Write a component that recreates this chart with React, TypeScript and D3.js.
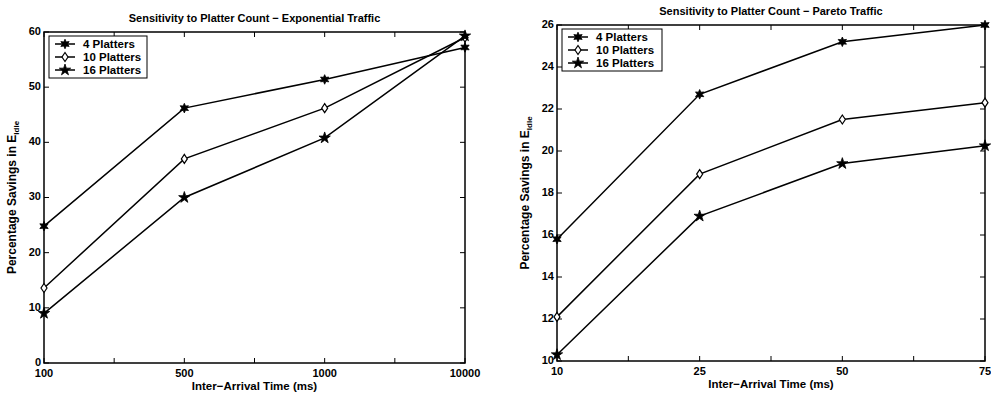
import React from 'react';
import * as d3 from 'd3';

// tick labels along x (minor ticks between categories have no label)
const expCategories = ['100', '500', '1000', '10000'];
const paretoCategories = ['10', '25', '50', '75'];
const seriesNames = ['4 Platters', '10 Platters', '16 Platters'];

// Exponential traffic
const exp4 = [24.8, 46.2, 51.4, 57.2];
const exp10 = [13.6, 37.0, 46.2, 59.0];
const exp16 = [9.0, 30.0, 40.8, 59.3];

// Pareto traffic
const par4 = [15.8, 22.7, 25.2, 26.0];
const par10 = [12.1, 18.9, 21.5, 22.3];
const par16 = [10.3, 16.9, 19.4, 20.25];

const FONT = '"Liberation Sans", Arial, Helvetica, sans-serif';

const hexagram = (r: number) => {
  const pts: string[] = [];
  for (let i = 0; i < 12; i++) {
    const rad = i % 2 === 0 ? r : r * 0.5;
    const a = (Math.PI / 6) * i;
    pts.push(`${(Math.sin(a) * rad).toFixed(2)},${(-Math.cos(a) * rad).toFixed(2)}`);
  }
  return 'M' + pts.join('L') + 'Z';
};

const pentagram = d3.symbol().type(d3.symbolStar).size(40)() as string;
const diamondPath = 'M0,-4.5L3,0L0,4.5L-3,0Z';
const hexPath = hexagram(4.8);

const Marker = ({ kind, x, y }: { kind: number; x: number; y: number }) => {
  if (kind === 0) return <path d={hexPath} transform={`translate(${x},${y})`} fill="#000" stroke="#000" strokeWidth={0.8} />;
  if (kind === 1) return <path d={diamondPath} transform={`translate(${x},${y})`} fill="#fff" stroke="#000" strokeWidth={1.2} />;
  return <path d={pentagram} transform={`translate(${x},${y})`} fill="#000" stroke="#000" strokeWidth={0.8} />;
};

type PanelProps = {
  title: string;
  titleY: number;
  categories: string[];
  series: number[][];
  yDomain: [number, number];
  yStep: number;
  left: number;
  right: number;
  top: number;
  bottom: number;
  ylabelX: number;
  legend: { x: number; y: number; w: number; row: number };
};

const Panel = (p: PanelProps) => {
  const n = p.categories.length - 1;
  const x = d3.scaleLinear().domain([0, n]).range([p.left, p.right]);
  const y = d3.scaleLinear().domain(p.yDomain).range([p.bottom, p.top]);
  const xTicks = d3.range(0, n + 0.001, 0.5);
  const yTicks = d3.range(p.yDomain[0], p.yDomain[1] + 0.001, p.yStep);
  const line = d3.line<number>().x((_, i) => x(i)).y((d) => y(d));
  const tl = 5;
  const midX = (p.left + p.right) / 2;
  const midY = (p.top + p.bottom) / 2;

  return (
    <g fontFamily={FONT} fontWeight="bold">
      <text x={midX} y={p.titleY} textAnchor="middle" fontSize={11}>{p.title}</text>

      {/* ticks on all four sides, pointing inward */}
      {xTicks.map((t) => (
        <g key={'x' + t}>
          <line x1={x(t)} x2={x(t)} y1={p.bottom} y2={p.bottom - tl} stroke="#000" strokeWidth={1} />
          <line x1={x(t)} x2={x(t)} y1={p.top} y2={p.top + tl} stroke="#000" strokeWidth={1} />
        </g>
      ))}
      {yTicks.map((t) => (
        <g key={'y' + t}>
          <line x1={p.left} x2={p.left + tl} y1={y(t)} y2={y(t)} stroke="#000" strokeWidth={1} />
          <line x1={p.right} x2={p.right - tl} y1={y(t)} y2={y(t)} stroke="#000" strokeWidth={1} />
          <text x={p.left - 3} y={y(t) - 1} dy="0.35em" textAnchor="end" fontSize={11}>{t}</text>
        </g>
      ))}
      {p.categories.map((c, i) => (
        <text key={c} x={x(i)} y={p.bottom + 14} textAnchor="middle" fontSize={11}>{c}</text>
      ))}

      <rect x={p.left} y={p.top} width={p.right - p.left} height={p.bottom - p.top} fill="none" stroke="#000" strokeWidth={1.5} />

      <text x={midX} y={p.bottom + 27} textAnchor="middle" fontSize={11.5}>Inter−Arrival Time (ms)</text>
      <text transform={`translate(${p.ylabelX},${midY}) rotate(-90)`} textAnchor="middle" fontSize={12}>
        Percentage Savings in E<tspan fontSize={8} dy={3}>Idle</tspan>
      </text>

      {p.series.map((s, k) => (
        <g key={'s' + k}>
          <path d={line(s) as string} fill="none" stroke="#000" strokeWidth={1.5} />
          {s.map((v, i) => <Marker key={i} kind={k} x={x(i)} y={y(v)} />)}
        </g>
      ))}

      <rect x={p.legend.x} y={p.legend.y} width={p.legend.w} height={p.legend.row * 3 + 3} fill="#fff" stroke="#000" strokeWidth={1} />
      {seriesNames.map((name, k) => {
        const ry = p.legend.y + 8 + k * p.legend.row;
        return (
          <g key={name}>
            <line x1={p.legend.x + 6} x2={p.legend.x + 26} y1={ry} y2={ry} stroke="#000" strokeWidth={1.5} />
            <Marker kind={k} x={p.legend.x + 16} y={ry} />
            <text x={p.legend.x + 34} y={ry} dy="0.35em" fontSize={11.5}>{name}</text>
          </g>
        );
      })}
    </g>
  );
};

export default function App() {
  return (
    <svg width={991} height={393} style={{ position: 'absolute', left: 0, top: 0, background: '#fff' }}>
      <Panel
        title="Sensitivity to Platter Count − Exponential Traffic"
        titleY={22}
        categories={expCategories}
        series={[exp4, exp10, exp16]}
        yDomain={[0, 60]}
        yStep={10}
        left={44}
        right={465}
        top={32}
        bottom={363}
        ylabelX={16}
        legend={{ x: 49, y: 36, w: 98, row: 13 }}
      />
      <Panel
        title="Sensitivity to Platter Count − Pareto Traffic"
        titleY={15}
        categories={paretoCategories}
        series={[par4, par10, par16]}
        yDomain={[10, 26]}
        yStep={2}
        left={557}
        right={985}
        top={25}
        bottom={361}
        ylabelX={529}
        legend={{ x: 562, y: 29, w: 100, row: 13 }}
      />
    </svg>
  );
}
